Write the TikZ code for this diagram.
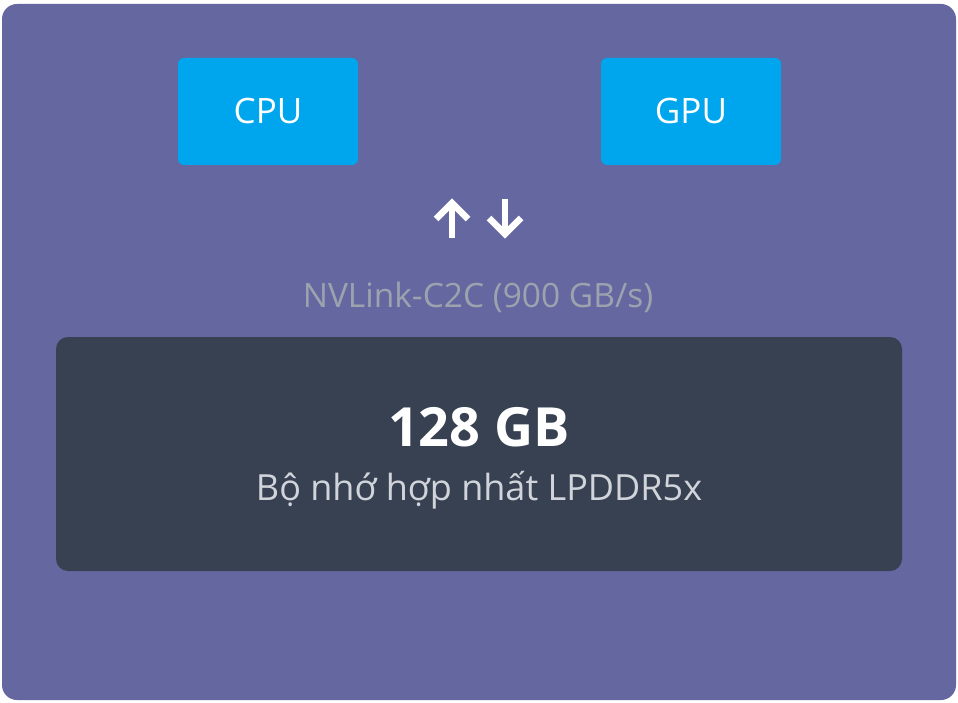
\documentclass[tikz,border=0pt]{standalone}
\usepackage{fontspec}
\setmainfont{Open Sans}
\definecolor{panelbg}{HTML}{6567A0}
\definecolor{chipblue}{HTML}{00A6ED}
\definecolor{memdark}{HTML}{374151}
\definecolor{linkgray}{HTML}{9CA3AF}
\definecolor{subgray}{HTML}{D1D5DB}
\tikzset{chip/.style = {fill = chipblue, rounded corners = 6, minimum width = 180, minimum height = 107, inner sep = 0, text = white, font = \fontsize{35}{40}\selectfont}}
\tikzset{arr/.style = {white, line width = 6.5, miter limit = 4}}

\begin{document}
\begin{tikzpicture}[x = 1pt, y = -1pt]
    \useasboundingbox [fill = white] (0, 0) rectangle (958, 703);
    \fill [panelbg, rounded corners = 15] (2, 4) rectangle (956, 700);

    \node [chip] (cpu) at (268, 111.5) {CPU};
    \node [chip] (gpu) at (691, 111.5) {GPU};

    % up and down arrows
    \draw [arr] (452, 238) -- (452, 203);
    \draw [arr] (436, 219) -- (452, 203) -- (468, 219);
    \draw [arr] (505, 199) -- (505, 234);
    \draw [arr] (489, 218) -- (505, 234) -- (521, 218);

    \node [text = linkgray, font = \fontsize{33.5}{38}\selectfont] (link) at (478, 297) {NVLink-C2C (900 GB/s)};

    \node [fill = memdark, rounded corners = 12, minimum width = 846, minimum height = 234, inner sep = 0] (mem) at (479, 454) {};
    \node [text = white, font = \bfseries\fontsize{54}{60}\selectfont] (size) at (479, 427) {128 GB};
    \node [text = subgray, font = \fontsize{36}{40}\selectfont] (kind) at (479, 490) {Bộ nhớ hợp nhất LPDDR5x};
\end{tikzpicture}
\end{document}
